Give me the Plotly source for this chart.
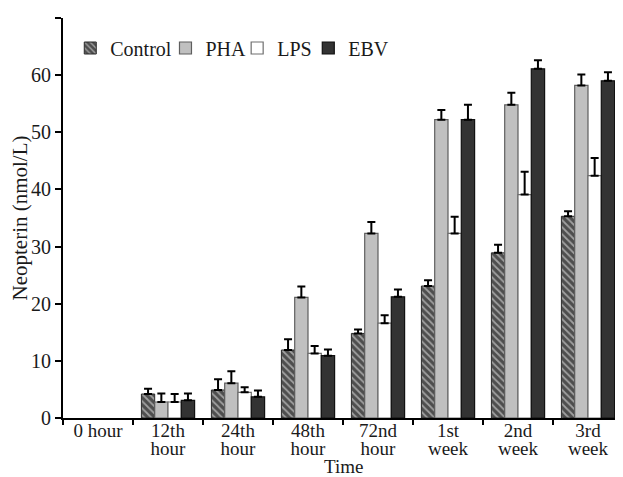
import plotly.graph_objects as go

categories = ["0 hour", "12th<br>hour", "24th<br>hour", "48th<br>hour", "72nd<br>hour", "1st<br>week", "2nd<br>week", "3rd<br>week"]

control = [None, 4.2, 4.9, 11.9, 14.8, 23.1, 28.9, 35.3]
control_err = [None, 0.9, 1.9, 1.9, 0.7, 1.0, 1.4, 0.9]
pha = [None, 2.8, 6.1, 21.1, 32.3, 52.2, 54.8, 58.2]
pha_err = [None, 1.5, 2.1, 1.9, 2.0, 1.7, 2.1, 1.9]
lps = [None, 2.8, 4.5, 11.3, 16.6, 32.3, 39.1, 42.4]
lps_err = [None, 1.4, 0.9, 1.3, 1.4, 2.9, 4.0, 3.1]
ebv = [None, 3.1, 3.7, 10.9, 21.2, 52.2, 61.1, 59.0]
ebv_err = [None, 1.2, 1.1, 1.1, 1.3, 2.6, 1.5, 1.5]

FONT = "Liberation Serif"
TXT = "#1a1a1a"

# tight line spacing for two-line tick labels: small base size, larger inner span
ticktext = ["<br>".join("<span style='font-size:19px'>%s</span>" % part for part in c.split("<br>"))
            for c in categories]


def err(vals):
    return dict(type="data", array=vals, arrayminus=[0 if v is not None else None for v in vals],
                symmetric=False, color="black", thickness=2, width=4, visible=True)


fig = go.Figure()
fig.add_trace(go.Bar(
    name="Control", x=categories, y=control, error_y=err(control_err), legend="legend",
    marker=dict(color="#505050", line=dict(color="#2a2a2a", width=1),
                pattern=dict(shape="\\", bgcolor="#4e4e4e", fgcolor="#a0a0a0",
                             size=5, solidity=0.35, fillmode="replace")),
))
fig.add_trace(go.Bar(
    name="PHA", x=categories, y=pha, error_y=err(pha_err), legend="legend2",
    marker=dict(color="#c0c0c0", line=dict(color="#5e5e5e", width=1.2)),
))
fig.add_trace(go.Bar(
    name="LPS", x=categories, y=lps, error_y=err(lps_err), legend="legend3",
    marker=dict(color="#ffffff", line=dict(color="#6e6e6e", width=1.2)),
))
fig.add_trace(go.Bar(
    name="EBV", x=categories, y=ebv, error_y=err(ebv_err), legend="legend4",
    marker=dict(color="#333333", line=dict(color="#111111", width=1.2)),
))


def leg(xpos):
    return dict(orientation="h", x=xpos, y=0.925, xanchor="left", yanchor="middle",
                font=dict(family=FONT, size=20, color=TXT), itemwidth=30,
                bgcolor="rgba(0,0,0,0)")


fig.update_layout(
    width=623, height=477,
    margin=dict(l=55, r=8, t=10, b=67),
    paper_bgcolor="white", plot_bgcolor="white",
    font=dict(family=FONT, size=19, color=TXT),
    barmode="group", bargap=0.24, bargroupgap=0,
    showlegend=True,
    legend=leg(0.013), legend2=leg(0.183), legend3=leg(0.311), legend4=leg(0.438),
    xaxis=dict(
        automargin=False,
        showline=True, linecolor="black", linewidth=2,
        ticks="outside", tickson="boundaries", ticklen=5, tickwidth=2, tickcolor="black",
        tickmode="array", tickvals=categories, ticktext=ticktext,
        tickfont=dict(family=FONT, size=14, color=TXT),
        showgrid=False, zeroline=False,
    ),
    yaxis=dict(
        automargin=False,
        range=[0, 70], dtick=10,
        showline=True, linecolor="black", linewidth=2,
        ticks="outside", ticklen=6, tickwidth=2, tickcolor="black",
        title=dict(text="Neopterin (nmol/L)", font=dict(family=FONT, size=21, color=TXT), standoff=0),
        tickfont=dict(family=FONT, size=20, color=TXT),
        showgrid=False, zeroline=False,
    ),
    annotations=[dict(text="Time", xref="paper", yref="paper", x=0.5, y=-0.12,
                      xanchor="center", yanchor="middle", showarrow=False,
                      font=dict(family=FONT, size=19, color=TXT))],
)

fig.write_html("out.html")
